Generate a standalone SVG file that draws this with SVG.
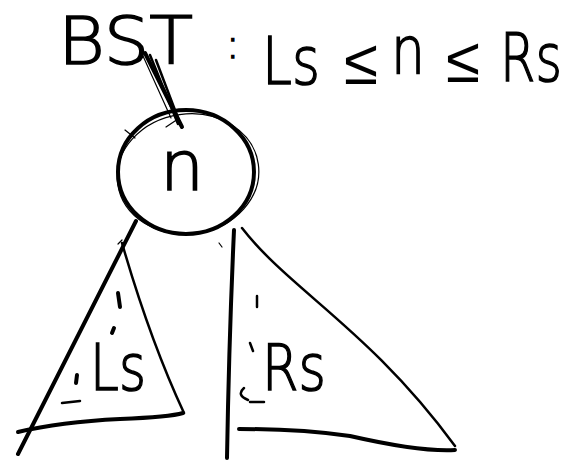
<svg xmlns="http://www.w3.org/2000/svg" width="581" height="463" viewBox="0 0 581 463">
<style>
  .ink { fill: none; stroke: #000; stroke-linecap: round; stroke-linejoin: round; }
  .thick { stroke-width: 4; }
  .mid { stroke-width: 2.5; }
  .thin { stroke-width: 1.2; }
  .hand { font-family: "DejaVu Sans", "Liberation Sans", sans-serif; font-weight: 200; fill: #000; stroke: #000; stroke-width: 1.5; }
  .rel { font-family: "Liberation Sans", sans-serif; stroke-width: 0; font-weight: 400; }
</style>
<rect width="581" height="463" fill="#fff"/>

<g id="title">
  <text class="hand" x="58" y="64" font-size="66" textLength="135" lengthAdjust="spacingAndGlyphs">BST</text>
  <text class="hand" x="226" y="58" font-size="40">:</text>
  <text class="hand" font-size="66" y="84"><tspan x="262" textLength="58" lengthAdjust="spacingAndGlyphs">Ls</tspan><tspan class="rel" x="344" y="84" font-size="64" textLength="34" lengthAdjust="spacingAndGlyphs">≤</tspan><tspan x="391" y="73" textLength="34" lengthAdjust="spacingAndGlyphs">n</tspan><tspan class="rel" x="446" y="82" font-size="64" textLength="34" lengthAdjust="spacingAndGlyphs">≤</tspan><tspan x="500" y="81" textLength="62" lengthAdjust="spacingAndGlyphs">Rs</tspan></text>
</g>

<g id="connectors">
  <path class="ink thick" d="M145 53 L182 127"/>
  <path class="ink mid" d="M150 55 L178 124 M156 60 L181 126"/>
  <path class="ink thin" d="M143 56 L171 118 M166 127 L178 119"/>
</g>

<g id="node-n">
  <ellipse class="ink thick" cx="186" cy="172" rx="68" ry="62"/>
  <ellipse class="ink thin" cx="188" cy="174" rx="71" ry="60" transform="rotate(-8 188 174)"/>
  <path class="ink thin" d="M125 130 L135 138"/>
  <text class="hand" x="160" y="190" font-size="70" textLength="44" lengthAdjust="spacingAndGlyphs">n</text>
</g>

<g id="subtree-ls">
  <path class="ink thick" d="M136 221 L18 454"/>
  <path class="ink mid" d="M122 243 Q150 340 184 413"/>
  <path class="ink thick" d="M18 432 Q60 422 120 419 Q170 417 183 413"/>
  <path class="ink thin" d="M118 244 L122 240"/>
  <text class="hand" x="90" y="390" font-size="64" textLength="56" lengthAdjust="spacingAndGlyphs">Ls</text>
  <path class="ink thick" d="M118 293 L120 307 M114 328 L112 333 M77 375 L76 383"/>
  <path class="ink mid" d="M62 403 L80 401"/>
</g>

<g id="subtree-rs">
  <path class="ink thick" d="M234 230 Q229 340 227 458"/>
  <path class="ink mid" d="M242 228 C290 290 370 330 455 446"/>
  <path class="ink thick" d="M239 429 Q300 429 350 436 Q420 452 455 450"/>
  <path class="ink thin" d="M219 243 L222 247"/>
  <text class="hand" x="262" y="390" font-size="64" textLength="64" lengthAdjust="spacingAndGlyphs">Rs</text>
  <path class="ink mid" d="M257 296 L257 307 M250 343 L253 351"/>
  <path class="ink mid" d="M244 388 Q236 395 248 400 M250 402 L264 402"/>
</g>
</svg>
